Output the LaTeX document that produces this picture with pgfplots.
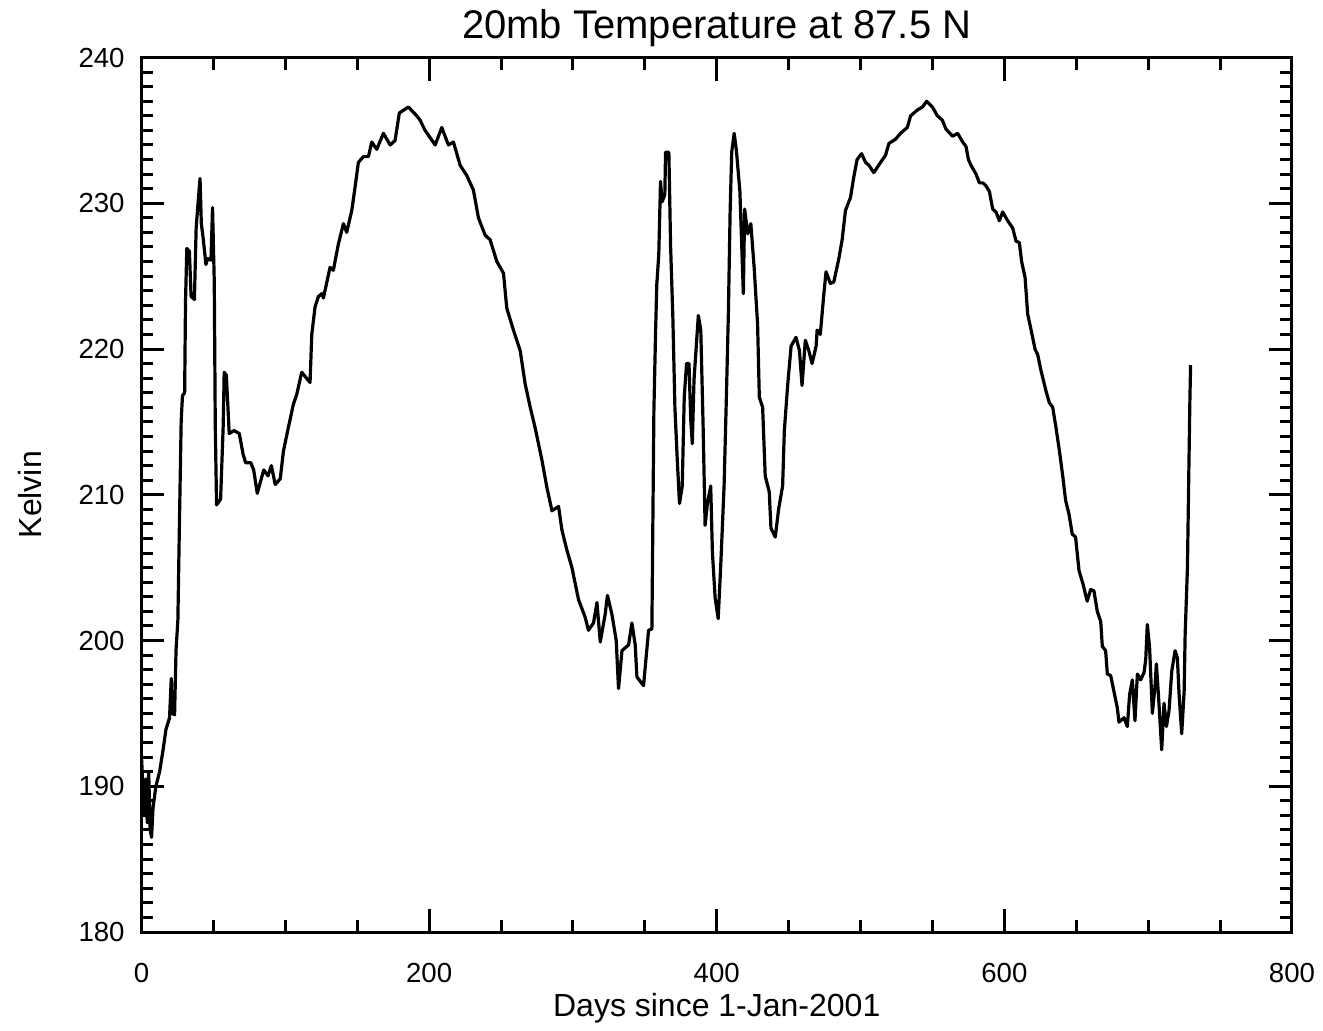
\documentclass[border=0pt]{standalone}
\usepackage{fontspec}
\setmainfont{Liberation Sans}
\usepackage{pgfplots}
\pgfplotsset{compat=1.18}

\begin{document}
\begin{tikzpicture}
\begin{axis}[
  scale only axis,
  width=575.25pt, height=437.25pt,
  xmin=0, xmax=800, ymin=180, ymax=240,
  xtick={0,200,...,800}, ytick={180,190,...,240},
  minor x tick num=3, minor y tick num=9,
  tick align=inside,
  major tick length=11.5pt, minor tick length=6pt,
  every tick/.style={black, line width=1.5pt},
  axis line style={line width=1.5pt},
  /pgf/number format/assume math mode=true,
  /pgf/number format/1000 sep={},
  tick label style={font=\fontsize{13.8}{16}\selectfont, inner sep=0pt},
  xticklabel style={anchor=base, yshift=-25pt},
  yticklabel style={anchor=east, xshift=-8.25pt},
  title={20mb Temperature at 87.5 N},
  title style={at={(axis description cs:0.5,1.0223)}, anchor=base, yshift=-6pt, inner sep=0pt,
    font=\fontsize{20}{24}\selectfont},
  xlabel={Days since 1-Jan-2001},
  xlabel style={at={(axis description cs:0.5,-0.0961)}, anchor=base, inner sep=0pt,
    font=\fontsize{16}{19}\selectfont},
  ylabel={Kelvin},
  ylabel style={at={(axis description cs:-0.0969,0.5)}, anchor=center, inner sep=0pt,
    font=\fontsize{16}{19}\selectfont},
]
\coordinate (O) at (rel axis cs:0,0);
\addplot[black, line width=1.6pt, line join=round, no marks] coordinates {
(0,192) (2,188) (3,190.5) (4,187.5) (5,191) (6,187) (7,186.5) (8,188.5)
(10,190) (12.6,191) (15,192.5) (17,193.9) (19.5,194.7) (20.7,197.4) (21.5,195)
(23,194.9) (24,199.3) (25.3,201.4) (26.4,208.2) (27.6,215.1) (28.5,216.8) (30,217)
(30.6,223.2) (31.5,226.9) (33.3,226.7) (34.5,223.6) (36.8,223.4) (38,228.3)
(39,229.6) (40.7,231.7) (41.6,228.6) (43,227.5) (44.8,225.8) (46,226.2) (48.3,226.1)
(49.4,229.7) (50.6,224.6) (51.3,214.7) (52.2,209.3) (55,209.7) (56.8,214.7)
(57.5,218.4) (59,218.2) (61,214.2) (64.4,214.4) (68,214.2) (70.6,212.8) (72.4,212.2)
(76,212.2) (78,211.7) (80.5,210.1) (85,211.7) (88,211.3) (90.3,212) (93,210.7)
(96.5,211.1) (98.7,213) (102.1,214.6) (105.6,216.2) (108,216.9) (111.4,218.4)
(117.2,217.7) (118.4,221) (120.7,222.9) (123,223.6) (125.4,223.8) (126.5,223.5)
(131.1,225.6) (133.4,225.4) (136.9,227.2) (140.4,228.6) (142.7,228) (146.2,229.5)
(148.5,231.1) (150.8,232.8) (154.3,233.2) (157.8,233.2) (160.1,234.2) (163.6,233.7)
(168.2,234.8) (172.9,234) (176.3,234.3) (179.3,236.2) (185.6,236.6) (191.4,236)
(193.7,235.7) (197.2,235) (204.2,234) (208.8,235.2) (213.4,234) (216.9,234.2)
(221.6,232.6) (226.2,231.9) (230.8,230.9) (234.3,229) (239,227.8) (242.4,227.5)
(247.1,226) (251.7,225.2) (254,222.8) (258.6,221.3) (263.3,219.9) (266.8,217.6)
(270.3,216) (273.7,214.6) (278.4,212.4) (281.9,210.5) (285.4,208.9) (290,209.2)
(292.3,207.6) (295.8,206.2) (299.3,205) (303.9,202.8) (308.5,201.6) (310.8,200.7)
(314.3,201.2) (316.7,202.6) (319,199.9) (322.4,201.8) (324,203.1) (327.1,201.8)
(330.1,200) (331.7,196.7) (334.1,199.3) (338.7,199.7) (341,201.2) (343.3,199.7)
(344.5,197.5) (349.1,196.9) (352.6,200.7) (354.9,200.8) (355.5,207.3) (356.3,215.8)
(357.5,221.3) (358.3,224.4) (359.7,226.5) (360.9,231.5) (362,230.1) (363.9,230.6)
(364.4,233.5) (366.7,233.5) (367.9,227.1) (369.5,222.1) (370.9,216) (372.5,212.5)
(374.1,209.4) (376,210.6) (377.4,216.7) (379,219) (380.7,219) (381.9,215.2)
(383,213.5) (384.2,217.9) (387.2,222.3) (388.9,221.3) (390.5,214.8) (391.9,207.9)
(393.5,209.4) (395.8,210.6) (397,206) (398.9,202.9) (401,201.5) (402.8,205.2)
(405.1,210.6) (406.7,216.7) (408.1,222.5) (409.3,229.4) (410.4,233.5) (412.1,234.8)
(413.7,233.6) (416.1,230.8) (417.5,226.7) (418.5,223.8) (419.4,229.6) (421.5,227.9)
(423.7,228.6) (426,225.6) (428.4,221.7) (429.6,216.7) (431.9,216) (433.7,211.3)
(436.5,210.2) (437.7,207.7) (440.7,207.1) (443,209) (445.8,210.6) (447,214.4)
(449.3,217.5) (451.7,220.2) (455.1,220.8) (457.5,219.9) (459.3,217.5) (461.6,220.6)
(464,219.9) (466.3,219) (469.1,220.2) (469.8,221.3) (472,221) (474.4,223.7)
(476,225.3) (479,224.5) (481.4,224.6) (484.9,226.2) (487.2,227.5) (489.5,229.5)
(493,230.4) (495.3,231.8) (497.6,233) (500.7,233.4) (503.5,232.8) (505.9,232.6)
(509.2,232.1) (513.9,232.8) (517.4,233.3) (519.7,234.1) (524.4,234.4) (527.8,234.8)
(532.5,235.2) (534.8,236) (539.5,236.4) (543,236.6) (546,237) (550,236.6)
(553.4,236) (556.9,235.7) (559.3,235.1) (564,234.6) (567.5,234.8) (571,234.2)
(573.3,233.9) (575,233) (576.8,232.6) (580.3,232) (582.6,231.4) (585,231.4)
(587.2,231.2) (589.6,230.8) (591.9,229.6) (594.2,229.4) (596.5,228.8) (598.8,229.4)
(602.3,228.8) (605.8,228.3) (608.1,227.4) (610.4,227.3) (612,226) (614.4,224.9)
(616.2,222.4) (618.6,221.3) (621.3,220) (623.2,219.6) (625.5,218.5) (629,217.1)
(631.3,216.3) (633.6,216) (635.9,214.6) (638.3,213) (640.7,211.2) (642.6,209.6)
(644.9,208.7) (647.2,207.3) (649.5,207.1) (651.9,204.8) (654.6,203.9) (657.6,202.7)
(660,203.5) (662.3,203.4) (664.6,202) (667,201.3) (668.1,199.6) (670.4,199.3)
(671.6,197.7) (673.9,197.6) (676.2,196.5) (678.5,195.4) (679.7,194.4) (683.2,194.7)
(685.5,194.1) (687.1,196.3) (689,197.3) (690.8,194.5) (692.5,197.7) (694.8,197.3)
(697.1,197.8) (698.3,198.7) (699.4,201.1) (701,199.5) (702.9,195) (704.7,196.8)
(705.7,198.4) (707.1,196.3) (709.4,192.5) (711,195.7) (712.7,194.1) (714.5,195.2)
(716.4,197.9) (718.7,199.3) (720.3,198.8) (721.5,196.3) (723.3,193.6) (725,196.5)
(725.7,200.4) (727.3,205) (728,209.8) (729,216.5) (729.5,218.9)
};
\end{axis}
\pgfresetboundingbox
\path[use as bounding box] (O) ++(-70.75pt,-49pt) rectangle ++(661.5pt,515pt);
\end{tikzpicture}
\end{document}
